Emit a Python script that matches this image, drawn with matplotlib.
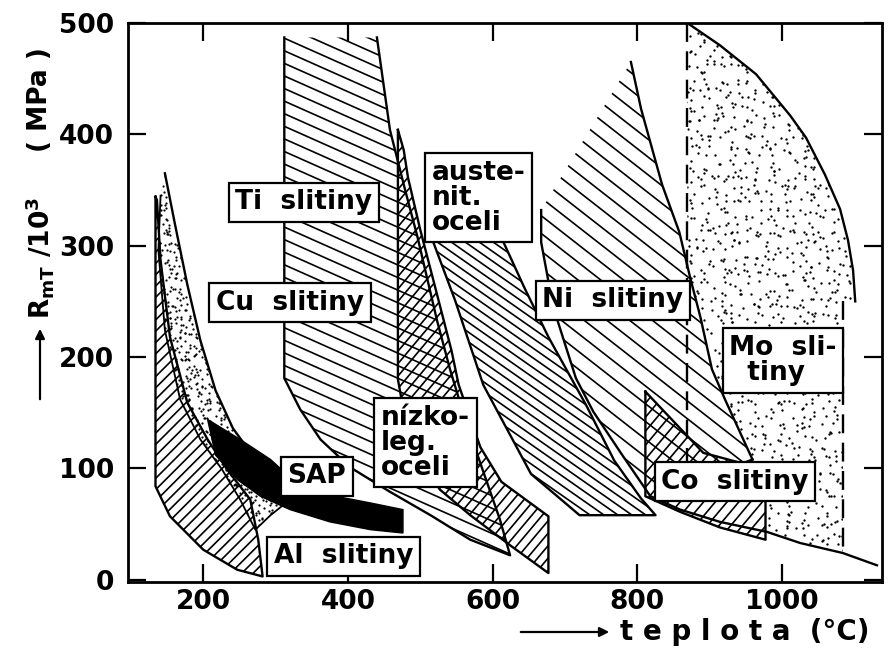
import numpy as np
import matplotlib
matplotlib.use("Agg")
import matplotlib.pyplot as plt
from matplotlib.patches import Polygon, FancyArrowPatch
from matplotlib.collections import LineCollection
from matplotlib.lines import Line2D
from matplotlib.transforms import IdentityTransform

# --- data: temperature (degC) / strength (MPa) outlines ---
al_t = [134, 134, 154, 200, 247, 282, 276, 265, 233, 206, 178, 154, 141, 136]
al_r = [344, 84, 57, 27, 9, 3, 36, 72, 99, 126, 159, 218, 287, 341]

cu_t = [147, 161, 178, 196, 217, 241, 268, 306, 334, 320, 293, 272, 251, 226, 196, 168, 147, 138, 141]
cu_r = [365, 319, 265, 215, 170, 136, 112, 92, 79, 72, 58, 45, 72, 99, 126, 162, 224, 296, 345]

sap_t = [206, 251, 293, 320, 375, 431, 476, 476, 431, 375, 320, 279, 247, 217]
sap_r = [144, 126, 108, 92, 76, 69, 63, 42, 45, 52, 63, 75, 90, 112]

ti_t = [312, 440, 458, 479, 496, 523, 541, 562, 586, 610, 624, 569, 514, 458, 403, 362, 334, 312]
ti_r = [487, 487, 404, 350, 308, 233, 189, 144, 99, 54, 22, 36, 58, 79, 101, 126, 153, 181]

nz_t = [469, 477, 483, 500, 518, 543, 553, 583, 612, 677, 677, 624, 569, 527, 500, 479, 469]
nz_r = [404, 386, 361, 314, 269, 206, 175, 119, 88, 57, 6, 31, 58, 81, 108, 144, 180]

au_t = [518, 548, 587, 653, 720, 825, 805, 768, 729, 677, 644, 615]
au_r = [303, 251, 175, 95, 58, 58, 73, 107, 157, 218, 262, 303]

ni_t = [791, 805, 834, 858, 873, 887, 903, 921, 959, 820, 778, 739, 715, 689, 677, 667, 667]
ni_r = [465, 423, 355, 312, 271, 236, 189, 162, 108, 73, 113, 151, 181, 234, 268, 303, 332]

co_t = [811, 891, 977, 977, 914, 859, 811]
co_r = [169, 114, 99, 36, 47, 61, 75]

mo_t = [869, 914, 964, 1011, 1033, 1059, 1080, 1091, 1098, 1101, 1084, 1084, 1025, 977, 977, 959, 921, 903, 887, 873, 869]
mo_r = [500, 480, 454, 417, 397, 364, 333, 305, 278, 250, 250, 24, 33, 43, 99, 108, 162, 189, 236, 271, 278]

mo_low_t = [818, 859, 914, 979, 1025, 1084, 1131]
mo_low_r = [75, 63, 52, 43, 33, 24, 13]

labels = ["Ti  slitiny", "Cu  slitiny", "SAP", "Al  slitiny", "nízko-\nleg.\noceli",
          "auste-\nnit.\noceli", "Ni  slitiny", "Mo  sli-\n  tiny", "Co  slitiny"]
label_t = [339, 320, 357, 394, 507, 581, 766, 1001, 935]
label_r = [339, 249, 93, 21, 123, 343, 251, 197, 88]

x_ticks = [200, 400, 600, 800, 1000]
y_ticks = [0, 100, 200, 300, 400, 500]

plt.rcParams["mathtext.default"] = "regular"
plt.rcParams["font.family"] = ["DejaVu Sans"]
plt.rcParams["font.weight"] = "bold"

fig = plt.figure(figsize=(8.91, 6.57), dpi=100)
ax = fig.add_axes([128 / 891, 75 / 657, 754 / 891, 559 / 657])
ax.set_xlim(96, 1138)
ax.set_ylim(-2, 500)


def region(t, r):
    p = Polygon(np.column_stack([t, r]), closed=True, fc="none", ec="none")
    ax.add_patch(p)
    return p


def hatch(patch, angle, gap, lw=1.2):
    bb = ax.bbox
    c = np.array([(bb.x0 + bb.x1) / 2, (bb.y0 + bb.y1) / 2])
    L = np.hypot(bb.width, bb.height)
    a = np.radians(angle)
    d = np.array([np.cos(a), np.sin(a)])
    n = np.array([-np.sin(a), np.cos(a)])
    segs = [[c + n * k - d * L / 2, c + n * k + d * L / 2] for k in np.arange(-L / 2, L / 2, gap)]
    lc = LineCollection(segs, colors="k", linewidths=lw, transform=IdentityTransform(), zorder=2)
    lc.set_clip_path(patch)
    ax.add_collection(lc, autolim=False)


def frac_hash(i, j, s):
    v = np.sin(i * 12.9898 + j * 78.233 + s) * 43758.5453
    return v - np.floor(v)


def dots(patch, gap, ms=1.6):
    # stipple texture: jittered grid
    bb = ax.bbox
    gx, gy = np.meshgrid(np.arange(bb.x0, bb.x1, gap), np.arange(bb.y0, bb.y1, gap))
    i, j = np.indices(gx.shape)
    gx = gx + gap * (frac_hash(i, j, 0.0) - 0.5) * 1.6
    gy = gy + gap * (frac_hash(i, j, 3.7) - 0.5) * 1.6
    ln = Line2D(gx.ravel(), gy.ravel(), ls="none", marker="o", ms=ms, mec="none", mfc="k",
                transform=IdentityTransform(), zorder=2)
    ln.set_clip_path(patch)
    ax.add_artist(ln)


def edge(t, r, closed=True, lw=1.7, **kw):
    t, r = list(t), list(r)
    if closed:
        t, r = t + t[:1], r + r[:1]
    ax.plot(t, r, color="k", lw=lw, solid_joinstyle="round", zorder=3, **kw)


# Mo
p_mo = region(mo_t, mo_r)
dots(p_mo, 8, ms=1.7)
ax.plot(mo_t[:10], mo_r[:10], color="k", lw=1.7, zorder=3)
ax.plot([mo_t[0], mo_t[0]], [500, 99], color="k", lw=1.7, ls=(0, (8, 4)), zorder=3)
ax.plot([mo_t[10], mo_t[11]], [mo_r[10], mo_r[11]], color="k", lw=1.7, ls=(0, (8, 4)), zorder=3)
ax.plot(mo_low_t, mo_low_r, color="k", lw=1.7, zorder=3)

# Al, Cu, SAP
p_al = region(al_t, al_r)
hatch(p_al, 45, 8)
edge(al_t, al_r)

p_cu = region(cu_t, cu_r)
dots(p_cu, 5, ms=1.6)
edge(cu_t[:9], cu_r[:9], closed=False)
edge(cu_t[9:], cu_r[9:], closed=False, lw=1.3)

# Ti, low-alloy steels
p_ti = region(ti_t, ti_r)
hatch(p_ti, -24, 11.5)
edge(ti_t[1:] + ti_t[:1], ti_r[1:] + ti_r[:1], closed=False)

p_nz = region(nz_t, nz_r)
hatch(p_nz, 50, 8)
edge(nz_t, nz_r)

ax.fill(sap_t, sap_r, color="k", zorder=3)

# austenitic steels, Ni, Co
p_au = region(au_t, au_r)
hatch(p_au, -35, 8)
edge(au_t, au_r, closed=False)

p_ni = region(ni_t, ni_r)
hatch(p_ni, -38, 14)
edge(ni_t[:9], ni_r[:9], closed=False)
edge(ni_t[8:], ni_r[8:], closed=False)

p_co = region(co_t, co_r)
ax.fill(co_t, co_r, color="white", zorder=1.5)
hatch(p_co, 50, 9)
edge(co_t, co_r)

for s, t, r in zip(labels, label_t, label_r):
    ax.text(t, r, s, fontsize=19, ha="center", va="center", linespacing=0.95, zorder=5,
            multialignment="left",
            bbox=dict(boxstyle="square,pad=0.25", fc="white", ec="k", lw=1.6))

ax.set_xticks(x_ticks)
ax.set_yticks(y_ticks)
ax.tick_params(direction="in", length=13, width=1.6, top=True, right=True, labelsize=19)
ax.tick_params(axis="x", pad=5)
ax.tick_params(axis="y", pad=10)
for sp in ax.spines.values():
    sp.set_linewidth(2)

# axis titles with arrows
fig.text(40 / 891, 1 - 258 / 657, r"$R_{mT}\ /10^3$", rotation=90, fontsize=19,
         ha="center", va="center")
fig.text(40 / 891, 1 - 100 / 657, "( MPa )", rotation=90, fontsize=19, ha="center", va="center")
fig.add_artist(FancyArrowPatch(
    (40 / 891, 1 - 402 / 657), (40 / 891, 1 - 326 / 657), transform=fig.transFigure,
    arrowstyle="-|>", mutation_scale=14, lw=1.6, color="k"))
fig.add_artist(FancyArrowPatch(
    (518 / 891, 1 - 632 / 657), (612 / 891, 1 - 632 / 657), transform=fig.transFigure,
    arrowstyle="-|>", mutation_scale=14, lw=1.6, color="k"))
fig.text(620 / 891, 1 - 632 / 657, "t e p l o t a  (°C)",
         fontsize=20, ha="left", va="center")

fig.savefig("out.png", dpi=100)
